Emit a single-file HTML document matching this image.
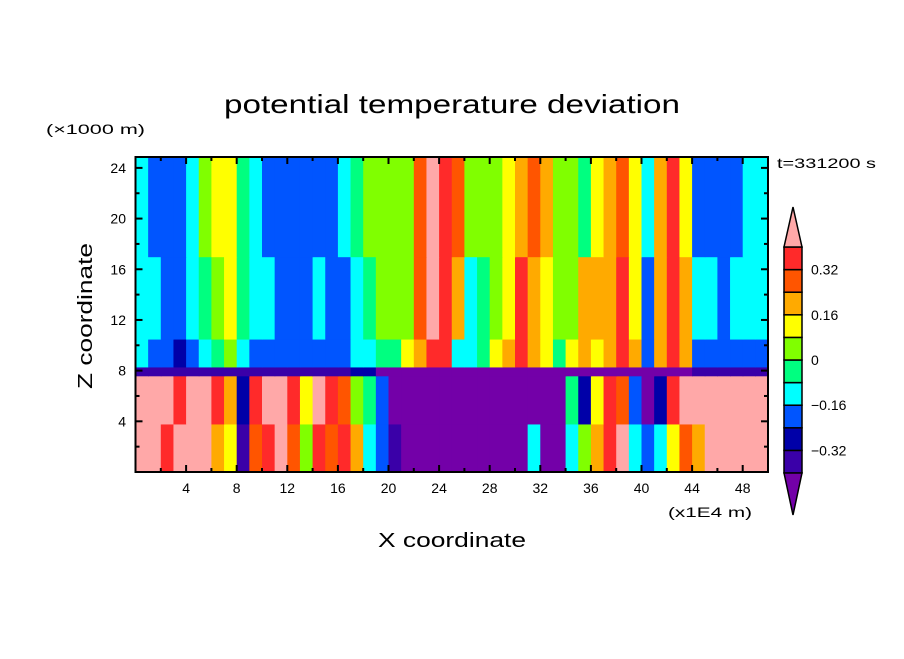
<!DOCTYPE html>
<html><head><meta charset="utf-8"><style>
html,body{margin:0;padding:0;background:#fff}
svg text{font-family:"Liberation Sans","DejaVu Sans",sans-serif;fill:#000}
</style></head><body>
<svg id="chart" width="904" height="654" viewBox="0 0 904 654" xmlns="http://www.w3.org/2000/svg">
<rect width="904" height="654" fill="#fff"/>
<text x="224" y="113" font-size="26" textLength="456" lengthAdjust="spacingAndGlyphs">potential temperature deviation</text>
<text x="46" y="134" font-size="14" textLength="99" lengthAdjust="spacingAndGlyphs">(×1000 m)</text>
<text x="777" y="168" font-size="14" textLength="99" lengthAdjust="spacingAndGlyphs">t=331200 s</text>
<text transform="translate(92,389) rotate(-90)" font-size="20" textLength="146" lengthAdjust="spacingAndGlyphs">Z coordinate</text>
<text x="378" y="547" font-size="20" textLength="148" lengthAdjust="spacingAndGlyphs">X coordinate</text>
<text x="668" y="517" font-size="14" textLength="84" lengthAdjust="spacingAndGlyphs">(x1E4 m)</text>
<g id="field"></g>
<g id="axes"></g>
<g id="cbar"></g>
</svg>
<script>
// colour levels
const levelBounds = [-0.4,-0.32,-0.24,-0.16,-0.08,0,0.08,0.16,0.24,0.32,0.4];
const levelColors = ["#7300a8","#3a00a8","#0000a8","#0055ff","#00ffff","#00ff80","#80ff00","#ffff00","#ffaa00","#ff5500","#ff2a2a","#ffa8a8"];
const cbarLabels = ["0.32","0.16","0","\u22120.16","\u22120.32"];
const cbarLabelValues = [0.32,0.16,0,-0.16,-0.32];
const xTicks = [4,8,12,16,20,24,28,32,36,40,44,48];
const zTicks = [4,8,12,16,20,24];
// per-column (1e4 m wide) values, layers
const upperTop = [-0.12,-0.2,-0.2,-0.2,-0.12,0.04,0.12,0.12,-0.04,-0.12,-0.2,-0.2,-0.2,-0.2,-0.2,-0.2,-0.12,-0.04,0.04,0.04,0.04,0.04,0.28,0.45,0.36,0.28,0.04,0.04,0.04,0.12,0.2,0.28,0.2,0.04,0.04,-0.04,0.12,0.2,0.28,0.12,-0.12,0.2,0.36,0.12,-0.2,-0.2,-0.2,-0.2,-0.12,-0.12];
const upperMid = [-0.12,-0.12,-0.2,-0.2,-0.12,-0.04,0.04,0.12,-0.04,-0.12,-0.12,-0.2,-0.2,-0.2,-0.12,-0.2,-0.2,-0.12,-0.04,0.04,0.04,0.04,0.28,0.45,0.36,0.2,-0.12,-0.04,0.04,0.12,0.36,0.2,0.12,0.04,0.04,0.2,0.2,0.2,0.36,0.12,-0.2,0.2,0.36,0.2,-0.12,-0.12,-0.2,-0.12,-0.12,-0.12];
const upperLow = [-0.12,-0.2,-0.2,-0.28,-0.2,-0.12,-0.04,0.04,-0.12,-0.2,-0.2,-0.2,-0.2,-0.2,-0.2,-0.2,-0.2,-0.12,-0.12,-0.04,-0.04,0.12,0.2,0.36,0.36,-0.12,-0.12,-0.04,0.12,0.2,0.36,0.2,0.12,-0.04,0.12,0.2,0.12,0.2,0.36,0.2,-0.2,0.2,0.36,0.2,-0.2,-0.2,-0.2,-0.2,-0.2,-0.2];
const interfaceVals = [-0.36,-0.36,-0.36,-0.36,-0.36,-0.36,-0.36,-0.36,-0.36,-0.36,-0.36,-0.36,-0.36,-0.36,-0.36,-0.36,-0.36,-0.28,-0.28,-0.45,-0.45,-0.45,-0.45,-0.45,-0.45,-0.45,-0.45,-0.45,-0.45,-0.45,-0.45,-0.45,-0.45,-0.45,-0.45,-0.45,-0.45,-0.45,-0.45,-0.45,-0.45,-0.45,-0.45,-0.45,-0.36,-0.36,-0.36,-0.36,-0.36,-0.36];
const lowerTop = [0.45,0.45,0.45,0.36,0.45,0.45,0.36,0.2,-0.28,0.36,0.45,0.45,0.36,0.12,0.45,0.36,0.28,0.04,-0.04,-0.2,-0.45,-0.45,-0.45,-0.45,-0.45,-0.45,-0.45,-0.45,-0.45,-0.45,-0.45,-0.45,-0.45,-0.45,-0.04,-0.28,0.12,0.36,0.28,-0.2,-0.45,-0.28,0.36,0.45,0.45,0.45,0.45,0.45,0.45,0.45];
const lowerBot = [0.45,0.45,0.36,0.45,0.45,0.45,0.2,0.12,-0.36,0.28,0.36,0.45,0.28,0.04,0.36,0.28,0.36,0.2,-0.12,-0.2,-0.36,-0.45,-0.45,-0.45,-0.45,-0.45,-0.45,-0.45,-0.45,-0.45,-0.45,-0.12,-0.45,-0.45,-0.12,0.04,0.2,0.36,0.45,-0.12,-0.2,-0.12,0.12,0.28,0.2,0.45,0.45,0.45,0.45,0.45];
// layer z-boundaries (km)
const layerTops = [3.8,7.6,8.3,10.5,17,25];

const NS="http://www.w3.org/2000/svg";
const X0=135.5,X1=768,Y0=157,Y1=472;
const xMin=0,xMax=50,zMin=0,zMax=24.86;
const xs=v=>X0+(v-xMin)/(xMax-xMin)*(X1-X0);
const zs=v=>Y1-(v-zMin)/(zMax-zMin)*(Y1-Y0);
function colorOf(v){let i=0;while(i<levelBounds.length&&v>=levelBounds[i])i++;return levelColors[i];}
function mk(tag,attrs,parent){const e=document.createElementNS(NS,tag);for(const k in attrs)e.setAttribute(k,attrs[k]);parent.appendChild(e);return e;}

const field=document.getElementById('field');
const layers=[lowerBot,lowerTop,interfaceVals,upperLow,upperMid,upperTop];
layers.forEach((arr,li)=>{
  const zb=li===0?0:layerTops[li-1], zt=Math.min(layerTops[li],zMax);
  arr.forEach((v,i)=>{
    const x0=xs(i),x1=xs(i+1);
    const r=mk('rect',{x:x0.toFixed(2),y:zs(zt).toFixed(2),width:(x1-x0+0.6).toFixed(2),height:(zs(zb)-zs(zt)+0.6).toFixed(2),fill:colorOf(v)},field);
    
    
  });
});

const axes=document.getElementById('axes');
mk('rect',{x:X0,y:Y0,width:X1-X0,height:Y1-Y0,fill:'none',stroke:'#000','stroke-width':2},axes);
for(let t=2;t<50;t+=2){
  const len=t%4===0?7:4;
  mk('line',{x1:xs(t),x2:xs(t),y1:Y1,y2:Y1-len,stroke:'#000','stroke-width':2},axes);
  mk('line',{x1:xs(t),x2:xs(t),y1:Y0,y2:Y0+len,stroke:'#000','stroke-width':2},axes);
}
for(let t=2;t<25;t+=2){
  const len=t%4===0?7:4;
  mk('line',{x1:X0,x2:X0+len,y1:zs(t),y2:zs(t),stroke:'#000','stroke-width':2},axes);
  mk('line',{x1:X1,x2:X1-len,y1:zs(t),y2:zs(t),stroke:'#000','stroke-width':2},axes);
}
xTicks.forEach(t=>{
  const tx=mk('text',{x:xs(t),y:Y1+21,'font-size':14,'text-anchor':'middle'},axes);
  tx.textContent=t;
  
  
});
zTicks.forEach(t=>{
  const tx=mk('text',{x:126,y:zs(t)+5,'font-size':14,'text-anchor':'end'},axes);
  tx.textContent=t;
  
  
});

// colorbar
const cb=document.getElementById('cbar');
const CX0=784,CX1=802,CBtop=247,CBbot=473;
const nBox=levelColors.length-2;
const bh=(CBbot-CBtop)/nBox;
const cbY=v=>CBbot-(v-levelBounds[0])/(levelBounds[levelBounds.length-1]-levelBounds[0])*(CBbot-CBtop);
for(let i=1;i<=nBox;i++){
  const r=mk('rect',{x:CX0,y:cbY(levelBounds[i]),width:CX1-CX0,height:bh,fill:levelColors[i],stroke:'#000','stroke-width':1.5},cb);
  
  
}
const tt=mk('polygon',{points:`${CX0},${CBtop} ${CX1},${CBtop} ${(CX0+CX1)/2},207`,fill:levelColors[levelColors.length-1],stroke:'#000','stroke-width':1.5},cb);


const bt=mk('polygon',{points:`${CX0},${CBbot} ${CX1},${CBbot} ${(CX0+CX1)/2},515`,fill:levelColors[0],stroke:'#000','stroke-width':1.5},cb);


cbarLabels.forEach((s,i)=>{
  const tx=mk('text',{x:811,y:cbY(cbarLabelValues[i])+5,'font-size':14},cb);
  tx.textContent=s;
  
  
});
</script>
</body></html>
